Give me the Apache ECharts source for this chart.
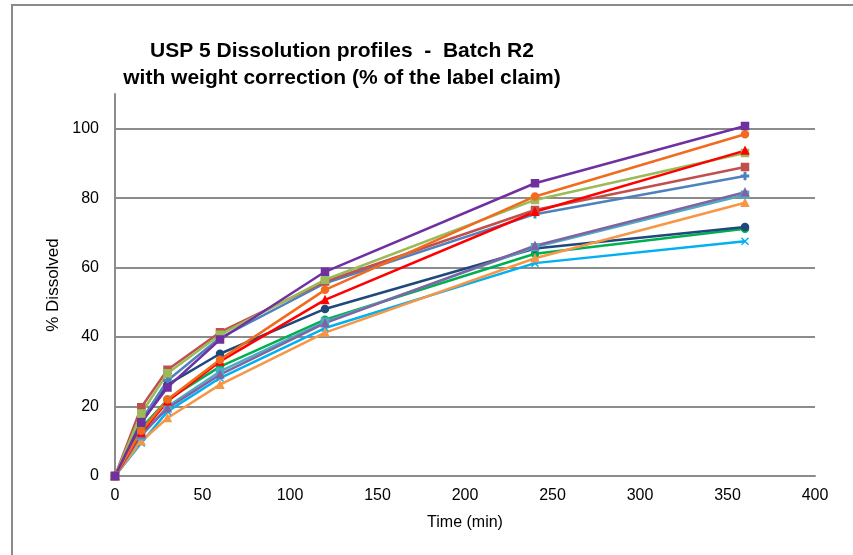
<!DOCTYPE html>
<html>
<head>
<meta charset="utf-8">
<script src="https://cdn.jsdelivr.net/npm/echarts@6/dist/echarts.min.js"></script>
<style>html,body{margin:0;padding:0;background:#fff;}#c{width:853px;height:555px;}</style>
</head>
<body>
<div id="c"></div>
<script>
const times = [0, 15, 30, 60, 120, 240, 360];
const xTicks = [0, 50, 100, 150, 200, 250, 300, 350, 400];
const yTicks = [0, 20, 40, 60, 80, 100];

const vesselPurple    = [0, 15.5, 25.5, 39.3, 58.8, 84.3, 100.8];
const vesselOrange    = [0, 13.0, 22.0, 33.5, 53.6, 80.5, 98.4];
const vesselRed       = [0, 12.5, 21.5, 33.0, 50.7, 76.1, 93.7];
const vesselOlive     = [0, 18.0, 29.6, 40.7, 56.5, 79.5, 93.0];
const vesselBrown     = [0, 19.8, 30.6, 41.4, 56.0, 76.6, 89.0];
const vesselBlue      = [0, 16.0, 27.5, 39.8, 55.5, 75.4, 86.4];
const vesselLavender  = [0, 12.0, 19.5, 29.2, 44.0, 66.3, 81.7];
const vesselTeal      = [0, 11.5, 20.0, 30.1, 44.4, 65.9, 81.0];
const vesselLtOrange  = [0, 10.0, 16.7, 26.3, 41.3, 62.7, 78.7];
const vesselNavy      = [0, 15.2, 26.3, 35.2, 48.1, 65.5, 71.7];
const vesselGreen     = [0, 13.8, 22.0, 31.5, 45.0, 64.0, 71.2];
const vesselSky       = [0,  9.5, 18.6, 28.2, 42.6, 61.3, 67.6];

const seriesDefs = [
  {name: 'V12', data: vesselSky, color: '#00B0F0', symbol: 'path://M0,0L10,10M10,0L0,10'},
  {name: 'V11', data: vesselGreen, color: '#00B050', symbol: 'circle'},
  {name: 'V10', data: vesselNavy, color: '#1F497D', symbol: 'circle'},
  {name: 'V9', data: vesselLtOrange, color: '#F79646', symbol: 'triangle'},
  {name: 'V8', data: vesselTeal, color: '#4BACC6', symbol: 'rect'},
  {name: 'V7', data: vesselLavender, color: '#8064A2', symbol: 'triangle'},
  {name: 'V6', data: vesselBlue, color: '#4F81BD', symbol: 'path://M4,0H6V4H10V6H6V10H4V6H0V4H4Z'},
  {name: 'V5', data: vesselBrown, color: '#C0504D', symbol: 'rect'},
  {name: 'V4', data: vesselOlive, color: '#9BBB59', symbol: 'path://M0,4H10V6H0Z'},
  {name: 'V3', data: vesselRed, color: '#FF0000', symbol: 'triangle'},
  {name: 'V2', data: vesselOrange, color: '#F26B1D', symbol: 'circle'},
  {name: 'V1', data: vesselPurple, color: '#7030A0', symbol: 'rect'}
];

const chart = echarts.init(document.getElementById('c'), null, {renderer: 'canvas'});
const font = '"Liberation Sans", Arial, sans-serif';

chart.setOption({
  animation: false,
  backgroundColor: '#fff',
  graphic: [{
    type: 'rect', silent: true, z: -10,
    shape: {x: 12, y: 5, width: 1000, height: 700},
    style: {fill: 'none', stroke: '#8a8a8a', lineWidth: 2}
  }],
  title: {
    text: 'USP 5 Dissolution profiles  -  Batch R2\nwith weight correction (% of the label claim)',
    left: 337, top: 33, textAlign: 'center',
    textStyle: {fontFamily: font, fontSize: 21, fontWeight: 'bold', color: '#000', lineHeight: 27}
  },
  grid: {left: 115, right: 38, top: 94, bottom: 79, containLabel: false},
  xAxis: {
    type: 'value', min: 0, max: 400, interval: 50,
    name: 'Time (min)', nameLocation: 'middle', nameGap: 39,
    nameTextStyle: {fontFamily: font, fontSize: 16, color: '#000'},
    axisLine: {show: true, lineStyle: {color: '#8c8c8c', width: 2}},
    axisTick: {show: false},
    splitLine: {show: false},
    axisLabel: {fontFamily: font, fontSize: 16, color: '#000', margin: 12,
      formatter: v => xTicks.includes(v) ? String(v) : ''}
  },
  yAxis: {
    type: 'value', min: 0, max: 110, interval: 20,
    name: '% Dissolved', nameLocation: 'middle', nameGap: 50, nameRotate: 90,
    nameTextStyle: {fontFamily: font, fontSize: 17, color: '#000'},
    axisLine: {show: true, lineStyle: {color: '#8c8c8c', width: 2}},
    axisTick: {show: false},
    splitLine: {show: true, showMaxLine: false, lineStyle: {color: '#8c8c8c', width: 2}},
    axisLabel: {fontFamily: font, fontSize: 16, color: '#000', margin: 16, showMaxLabel: false,
      formatter: v => yTicks.includes(v) ? String(v) : ''}
  },
  series: seriesDefs.map(s => ({
    type: 'line', name: s.name,
    data: times.map((t, i) => [t, s.data[i]]),
    symbol: s.symbol, symbolSize: 7, showSymbol: true,
    lineStyle: {color: s.color, width: 2.5},
    itemStyle: {color: s.color, borderColor: s.color, borderWidth: 1.5}
  }))
});
</script>
</body>
</html>
